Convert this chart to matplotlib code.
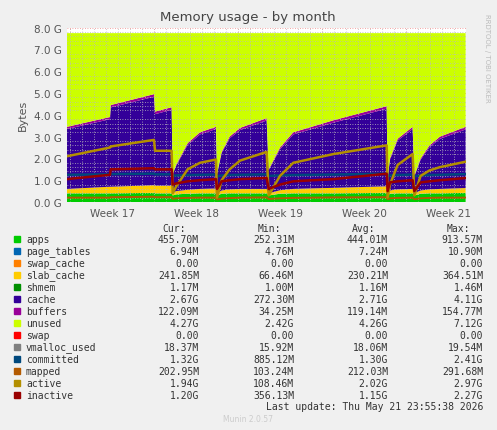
import matplotlib
matplotlib.use("Agg")
import matplotlib.pyplot as plt
import numpy as np

W, H = 497, 431
# time axis in weeks
t = [16.464,16.976,16.984,17.500,17.512,17.710,17.722,17.762,17.9,18.047,18.238,18.250,18.305,18.4,18.524,
     18.841,18.865,19.0,19.158,19.635,20.270,20.281,20.309,20.4,20.579,20.599,20.674,20.78,20.904,21.210]
total = 7.75
used_top = [3.45,3.9,4.45,4.95,4.15,4.35,1.3,1.7,2.7,3.2,3.45,1.3,2.3,3.0,3.4,3.85,1.5,2.5,3.2,3.75,4.4,1.1,2.0,2.9,3.45,1.2,2.0,2.6,3.0,3.45]
apps = [0.4,0.4,0.4,0.42,0.4,0.4,0.3,0.35,0.38,0.4,0.4,0.3,0.38,0.4,0.4,0.4,0.3,0.38,0.4,0.4,0.42,0.3,0.38,0.4,0.4,0.3,0.38,0.4,0.4,0.42]
slab = [0.2,0.3,0.3,0.35,0.35,0.35,0.1,0.15,0.18,0.2,0.22,0.1,0.15,0.18,0.2,0.2,0.1,0.16,0.2,0.25,0.3,0.1,0.15,0.18,0.2,0.1,0.15,0.18,0.2,0.22]
buffers = [0.1,0.1,0.11,0.12,0.12,0.12,0.03,0.05,0.08,0.1,0.1,0.03,0.06,0.08,0.1,0.11,0.04,0.08,0.1,0.11,0.12,0.03,0.06,0.08,0.1,0.03,0.06,0.08,0.1,0.12]
active = [2.1,2.5,2.55,2.85,2.35,2.35,0.4,0.7,1.5,1.8,1.95,0.2,1.0,1.5,1.9,2.3,0.3,1.2,1.8,2.2,2.6,0.2,0.8,1.7,2.2,0.3,1.2,1.45,1.6,1.85]
inactive = [1.05,1.25,1.5,1.55,1.5,1.5,0.8,0.85,0.95,1.0,1.05,0.6,0.95,1.0,1.05,1.1,0.6,0.8,0.95,1.05,1.3,0.5,0.9,0.95,1.0,0.5,0.9,0.95,1.0,1.1]
committed = [1.25,1.27,1.28,1.3,1.27,1.27,1.2,1.22,1.24,1.25,1.26,1.18,1.22,1.24,1.25,1.27,1.2,1.22,1.24,1.26,1.3,1.18,1.22,1.24,1.26,1.18,1.22,1.24,1.25,1.28]
mapped = [0.2,0.2,0.22,0.24,0.22,0.22,0.15,0.17,0.19,0.2,0.2,0.12,0.16,0.18,0.2,0.21,0.14,0.17,0.19,0.21,0.22,0.13,0.17,0.19,0.2,0.13,0.17,0.19,0.2,0.2]
weeks = [17, 18, 19, 20, 21]

names = ["apps","page_tables","swap_cache","slab_cache","shmem","cache","buffers","unused",
         "swap","vmalloc_used","committed","mapped","active","inactive"]
colors = ["#00CC00","#0066B3","#FF8000","#FFCC00","#008F00","#330099","#990099","#CCFF00",
          "#FF0000","#808080","#00487D","#B35A00","#B38F00","#990000"]
cur = ["455.70M","6.94M","0.00","241.85M","1.17M","2.67G","122.09M","4.27G","0.00","18.37M","1.32G","202.95M","1.94G","1.20G"]
mn = ["252.31M","4.76M","0.00","66.46M","1.00M","272.30M","34.25M","2.42G","0.00","15.92M","885.12M","103.24M","108.46M","356.13M"]
avg = ["444.01M","7.24M","0.00","230.21M","1.16M","2.71G","119.14M","4.26G","0.00","18.06M","1.30G","212.03M","2.02G","1.15G"]
mx = ["913.57M","10.90M","0.00","364.51M","1.46M","4.11G","154.77M","7.12G","0.00","19.54M","2.41G","291.68M","2.97G","2.27G"]

fig = plt.figure(figsize=(W/100, H/100), dpi=100, facecolor="#F0F0F0")
ax = fig.add_axes([67/W, 1-203/H, 399/W, (203-28.7)/H], facecolor="white")
tt = np.array(t)
a = np.array(apps); s = np.array(slab); b = np.array(buffers); u = np.array(used_top)
cache = u - a - s - b
ax.stackplot(tt, a, s, cache, b, total - u,
             colors=["#00CC00","#FFCC00","#330099","#990099","#CCFF00"], linewidth=0, zorder=1)
ax.plot(tt, committed, color="#00487D", lw=1.8, zorder=3)
ax.plot(tt, mapped, color="#B35A00", lw=1.4, zorder=3)
ax.plot(tt, active, color="#B38F00", lw=1.8, zorder=3)
ax.plot(tt, inactive, color="#990000", lw=1.8, zorder=3)
ax.set_xlim(16.464, 21.214)
ax.set_ylim(0, 8)
ax.set_yticks(np.arange(0, 8.1, 1.0))
ax.set_yticklabels([f"{v:.1f} G" for v in np.arange(0, 8.1, 1.0)])
ax.set_yticks(np.arange(0, 8, 0.2), minor=True)
ax.set_xticks(weeks)
ax.set_xticklabels([f"Week {w}" for w in weeks])
ax.set_xticks(np.arange(16.5, 21.3, 1/7), minor=True)
ax.tick_params(length=0, labelsize=7.5, colors="#555555", which="both", pad=4)
ax.grid(True, which="minor", color="#bbbbbb", ls=(0, (1, 2)), lw=0.6, zorder=2)
ax.set_axisbelow(False)
for y in range(9):
    ax.axhline(y, color="#ee8888", ls=(0, (1, 2)), lw=0.6, zorder=0.5)
for x in np.arange(16.5, 21.3, 1.0):
    ax.axvline(x, color="#ee8888", ls=(0, (1, 2)), lw=0.6, zorder=0.5)
for sp in ax.spines.values():
    sp.set_visible(False)
ax.set_ylabel("Bytes", fontsize=8, color="#555555")

fig.text(248/W, 1-18/H, "Memory usage - by month", ha="center", va="center", fontsize=9.5, color="#444444")
fig.text(487/W, 1-58/H, "RRDTOOL / TOBI OETIKER", rotation=270, ha="center", va="center", fontsize=5, color="#bbbbbb")

mono = "DejaVu Sans Mono"
fs = 7
hy = 229
for xr, lab in [(186, "Cur:"), (281, "Min:"), (375, "Avg:"), (470, "Max:")]:
    fig.text(xr/W, 1-hy/H, lab, ha="right", va="center", family=mono, fontsize=fs, color="#333333")
for i, n in enumerate(names):
    y = 240 + i*12
    fig.patches.append(plt.Rectangle((14/W, 1-(y+3)/H), 6/W, 6/H, transform=fig.transFigure, color=colors[i]))
    fig.text(26/W, 1-y/H, n, ha="left", va="center", family=mono, fontsize=fs, color="#333333")
    for xr, v in [(199, cur[i]), (294, mn[i]), (388, avg[i]), (483, mx[i])]:
        fig.text(xr/W, 1-y/H, v, ha="right", va="center", family=mono, fontsize=fs, color="#333333")
fig.text(483/W, 1-407/H, "Last update: Thu May 21 23:55:38 2026", ha="right", va="center", family=mono, fontsize=fs, color="#333333")
fig.text(248/W, 1-420/H, "Munin 2.0.57", ha="center", va="center", fontsize=5.5, color="#cccccc")
fig.savefig("out.png", dpi=100, facecolor=fig.get_facecolor())
